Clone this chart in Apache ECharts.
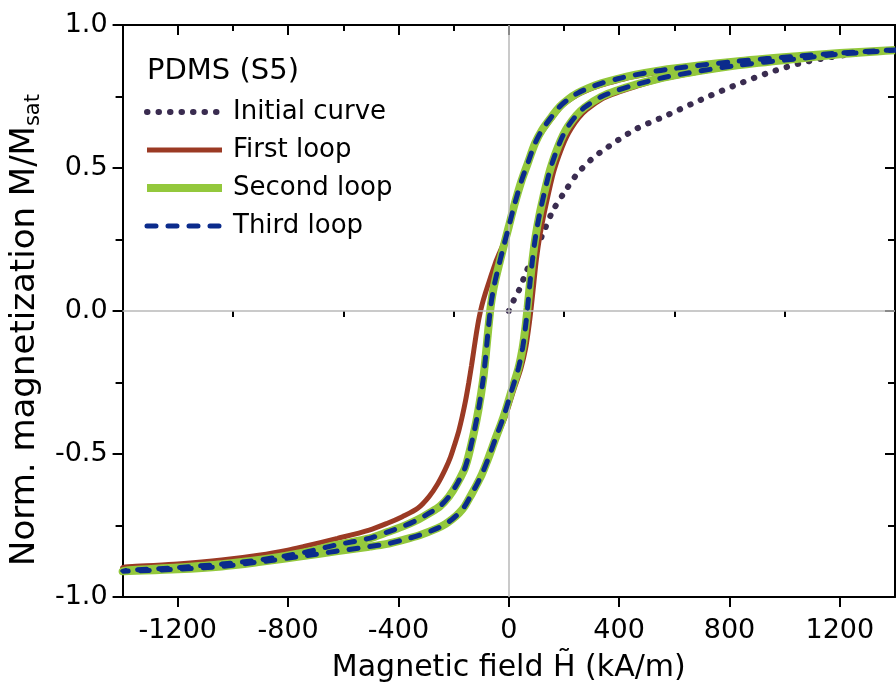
<!DOCTYPE html>
<html>
<head>
<meta charset="utf-8">
<title>PDMS (S5) magnetization loops</title>
<script src="https://cdn.jsdelivr.net/npm/echarts@6/dist/echarts.min.js"></script>
<style>
  html, body { margin: 0; padding: 0; background: #fff; }
  #chart { width: 896px; height: 693px; }
</style>
</head>
<body>
<div id="chart"></div>
<script>
// field H (kA/m) and normalized magnetization M/Msat
const initialH = [0, 17, 37, 65, 97, 129, 161, 203, 245, 299, 335, 455, 575, 695, 815, 936, 1056, 1176, 1296, 1400];
const initialM = [0, 0.036, 0.073, 0.141, 0.21, 0.283, 0.353, 0.417, 0.476, 0.530, 0.557, 0.633, 0.685, 0.738, 0.787, 0.831, 0.866, 0.889, 0.903, 0.912];

// first loop: descending branch (+H -> -H), then ascending branch
const firstDownH = [1400, 1200, 1056, 815, 575, 455, 395, 335, 290, 250, 215, 185, 155, 120, 95, 70, 47, 20, 0, -20, -35, -49, -67, -85, -98, -108, -117, -126, -135, -145, -157, -169, -181, -195, -211, -230, -258, -289, -330, -386, -440, -506, -621, -746, -801, -900, -1041, -1200, -1400];
const firstDownM = [0.913, 0.901, 0.890, 0.869, 0.840, 0.820, 0.806, 0.790, 0.774, 0.756, 0.734, 0.709, 0.672, 0.625, 0.58, 0.515, 0.455, 0.37, 0.30, 0.235, 0.20, 0.167, 0.115, 0.062, 0.018, -0.025, -0.075, -0.132, -0.19, -0.25, -0.315, -0.37, -0.418, -0.463, -0.51, -0.553, -0.605, -0.649, -0.69, -0.719, -0.742, -0.766, -0.795, -0.824, -0.836, -0.853, -0.871, -0.885, -0.898];
const firstUpH = [-1400, -1200, -1041, -900, -746, -626, -506, -441, -386, -321, -260, -230, -205, -180, -160, -133, -112, -93, -70, -45, -13, 18, 44, 61, 72, 81, 91, 100, 112, 129, 158, 174, 192, 209, 226, 254, 283, 340, 400, 460, 575, 815, 1056, 1200, 1400];
const firstUpM = [-0.905, -0.898, -0.889, -0.874, -0.855, -0.838, -0.822, -0.813, -0.799, -0.783, -0.76, -0.745, -0.728, -0.706, -0.683, -0.637, -0.6, -0.56, -0.505, -0.445, -0.37, -0.276, -0.2, -0.13, -0.06, 0.01, 0.1, 0.18, 0.26, 0.345, 0.47, 0.522, 0.57, 0.608, 0.638, 0.676, 0.704, 0.743, 0.766, 0.785, 0.815, 0.855, 0.882, 0.898, 0.912];

// second loop
const secondDownH = [1400, 1200, 1056, 815, 575, 455, 395, 335, 290, 250, 215, 185, 155, 120, 95, 70, 47, 20, 0, -19, -43, -55, -65, -75, -84, -93, -109, -127, -157, -185, -217, -250, -289, -335, -386, -440, -506, -626, -746, -900, -1041, -1200, -1400];
const secondDownM = [0.913, 0.902, 0.892, 0.872, 0.845, 0.825, 0.812, 0.796, 0.780, 0.762, 0.740, 0.715, 0.679, 0.632, 0.586, 0.52, 0.458, 0.37, 0.295, 0.225, 0.132, 0.08, 0.02, -0.07, -0.16, -0.24, -0.34, -0.428, -0.544, -0.6, -0.649, -0.683, -0.707, -0.732, -0.754, -0.773, -0.795, -0.818, -0.845, -0.87, -0.885, -0.897, -0.910];
const secondUpH = [-1400, -1200, -1041, -900, -746, -626, -506, -441, -386, -321, -260, -230, -205, -180, -160, -133, -115, -97, -73, -49, -19, 11, 35, 50, 60, 68, 77, 86, 97, 113, 143, 160, 179, 197, 215, 245, 275, 335, 395, 455, 575, 815, 1056, 1200, 1400];
const secondUpM = [-0.912, -0.903, -0.893, -0.877, -0.857, -0.84, -0.824, -0.814, -0.801, -0.783, -0.760, -0.745, -0.728, -0.706, -0.683, -0.637, -0.605, -0.570, -0.512, -0.448, -0.37, -0.276, -0.2, -0.13, -0.06, 0.01, 0.1, 0.18, 0.26, 0.345, 0.47, 0.525, 0.575, 0.615, 0.646, 0.684, 0.712, 0.749, 0.772, 0.790, 0.819, 0.857, 0.883, 0.898, 0.912];

// third loop (sits on top of the second one)
const thirdDownH = [1400, 1200, 1056, 815, 575, 455, 395, 335, 290, 250, 215, 185, 155, 120, 95, 70, 47, 20, 0, -19, -43, -55, -65, -75, -84, -93, -109, -127, -157, -185, -217, -250, -289, -335, -386, -440, -506, -626, -746, -900, -1041, -1200, -1400];
const thirdDownM = [0.913, 0.902, 0.892, 0.872, 0.845, 0.825, 0.812, 0.796, 0.780, 0.762, 0.740, 0.715, 0.679, 0.632, 0.586, 0.52, 0.458, 0.37, 0.295, 0.225, 0.132, 0.08, 0.02, -0.07, -0.16, -0.24, -0.34, -0.428, -0.544, -0.6, -0.649, -0.683, -0.707, -0.732, -0.754, -0.773, -0.795, -0.818, -0.845, -0.87, -0.885, -0.897, -0.910];
const thirdUpH = [-1400, -1200, -1041, -900, -746, -626, -506, -441, -386, -321, -260, -230, -205, -180, -160, -133, -115, -97, -73, -49, -19, 11, 35, 50, 60, 68, 77, 86, 97, 113, 143, 160, 179, 197, 215, 245, 275, 335, 395, 455, 575, 815, 1056, 1200, 1400];
const thirdUpM = [-0.912, -0.903, -0.893, -0.877, -0.857, -0.84, -0.824, -0.814, -0.801, -0.783, -0.760, -0.745, -0.728, -0.706, -0.683, -0.637, -0.605, -0.570, -0.512, -0.448, -0.37, -0.276, -0.2, -0.13, -0.06, 0.01, 0.1, 0.18, 0.26, 0.345, 0.47, 0.525, 0.575, 0.615, 0.646, 0.684, 0.712, 0.749, 0.772, 0.790, 0.819, 0.857, 0.883, 0.898, 0.912];

const xMajorTicks = [-1200, -800, -400, 0, 400, 800, 1200];
const xMinorTicks = [-1000, -600, -200, 200, 600, 1000];
const seriesNames = ['Initial curve', 'First loop', 'Second loop', 'Third loop'];

const FONT = 'DejaVu Sans';
const pairs = (hs, ms) => hs.map((h, i) => [h, ms[i]]);

const chart = echarts.init(document.getElementById('chart'), null, { renderer: 'canvas' });

const axisLine = { show: true, onZero: false, lineStyle: { color: '#000', width: 2 } };
const tickStyle = { color: '#000', width: 2 };

function xAxisDef(position, ticks, len, inside, withLabel) {
  return {
    type: 'value',
    position: position,
    min: -1400,
    max: 1400,
    axisLine: withLabel || position === 'top' ? axisLine : { show: false },
    axisTick: { show: true, inside: inside, length: len, customValues: ticks, lineStyle: tickStyle },
    axisLabel: withLabel
      ? { show: true, customValues: ticks, margin: 20, fontSize: 27, fontFamily: FONT, color: '#000', formatter: (v) => String(v) }
      : { show: false },
    splitLine: { show: false },
  };
}

const xAxes = [
  xAxisDef('bottom', xMajorTicks, 10, false, true),
  xAxisDef('bottom', xMinorTicks, 6, false, false),
  xAxisDef('top', xMajorTicks, 10, true, false),
  xAxisDef('top', xMinorTicks, 6, true, false),
];
xAxes[0].name = 'Magnetic field H\u0303 (kA/m)';
xAxes[0].nameLocation = 'middle';
xAxes[0].nameGap = 56;
xAxes[0].nameTextStyle = { fontSize: 30, fontFamily: FONT, color: '#000' };

chart.setOption({
  animation: false,
  backgroundColor: '#fff',
  grid: { left: 118, right: 1, top: 25, bottom: 96, containLabel: false },
  title: {
    text: 'PDMS (S5)',
    left: 147,
    top: 57,
    padding: 0,
    textStyle: { fontFamily: FONT, fontSize: 29, fontWeight: 'normal', color: '#000' },
  },
  legend: {
    data: seriesNames,
    orient: 'vertical',
    left: 143,
    top: 97,
    padding: 0,
    itemWidth: 75,
    itemHeight: 14,
    itemGap: 8,
    itemStyle: { opacity: 0 },
    lineStyle: { width: 'inherit' },
    textStyle: { fontFamily: FONT, fontSize: 26, color: '#000', lineHeight: 30, padding: [0, 0, 0, 6] },
  },
  xAxis: xAxes,
  yAxis: [
    {
      type: 'value',
      position: 'left',
      min: -1,
      max: 1,
      interval: 0.5,
      axisLine: axisLine,
      axisTick: { show: true, length: 10, lineStyle: tickStyle },
      minorTick: { show: true, splitNumber: 2, length: 7, lineStyle: tickStyle },
      axisLabel: { margin: 15, fontSize: 27, fontFamily: FONT, color: '#000', formatter: (v) => v.toFixed(1) },
      splitLine: { show: false },
      name: '{a|Norm. magnetization M/M}{b|sat}',
      nameLocation: 'middle',
      nameGap: 57,
      nameTextStyle: {
        padding: [0, 38, 0, 0],
        rich: {
          a: { fontSize: 34, fontFamily: FONT, color: '#000', lineHeight: 38 },
          b: { fontSize: 21, fontFamily: FONT, color: '#000', lineHeight: 15, verticalAlign: 'bottom' },
        },
      },
    },
    {
      type: 'value',
      position: 'right',
      min: -1,
      max: 1,
      interval: 0.5,
      axisLine: axisLine,
      axisTick: { show: true, inside: true, length: 10, lineStyle: tickStyle },
      minorTick: { show: true, splitNumber: 2, length: 7, lineStyle: tickStyle },
      axisLabel: { show: false },
      splitLine: { show: false },
    },
  ],
  series: [
    {
      type: 'line',
      data: [],
      silent: true,
      z: 1,
      markLine: {
        silent: true,
        symbol: 'none',
        label: { show: false },
        lineStyle: { color: '#b8b8b8', width: 1.5, type: 'solid' },
        data: [{ xAxis: 0 }, { yAxis: 0 }],
      },
    },
    {
      name: seriesNames[0],
      type: 'line',
      data: pairs(initialH, initialM),
      symbol: 'none',
      smooth: 0.3,
      z: 2,
      itemStyle: { color: '#3a2c50' },
      lineStyle: { color: '#3a2c50', width: 6, type: [0.5, 11], cap: 'round' },
    },
    {
      name: seriesNames[1],
      type: 'line',
      data: pairs(firstDownH, firstDownM).concat(pairs(firstUpH, firstUpM)),
      symbol: 'none',
      smooth: 0.3,
      z: 3,
      itemStyle: { color: '#9b3a24' },
      lineStyle: { color: '#9b3a24', width: 5 },
    },
    {
      name: seriesNames[2],
      type: 'line',
      data: pairs(secondDownH, secondDownM).concat(pairs(secondUpH, secondUpM)),
      symbol: 'none',
      smooth: 0.3,
      z: 4,
      itemStyle: { color: '#93c83c' },
      lineStyle: { color: '#93c83c', width: 8 },
    },
    {
      name: seriesNames[3],
      type: 'line',
      data: pairs(thirdDownH, thirdDownM).concat(pairs(thirdUpH, thirdUpM)),
      symbol: 'none',
      smooth: 0.3,
      z: 5,
      itemStyle: { color: '#0b2b8c' },
      lineStyle: { color: '#0b2b8c', width: 5, type: [9, 12], cap: 'round' },
    },
  ],
});
</script>
</body>
</html>
